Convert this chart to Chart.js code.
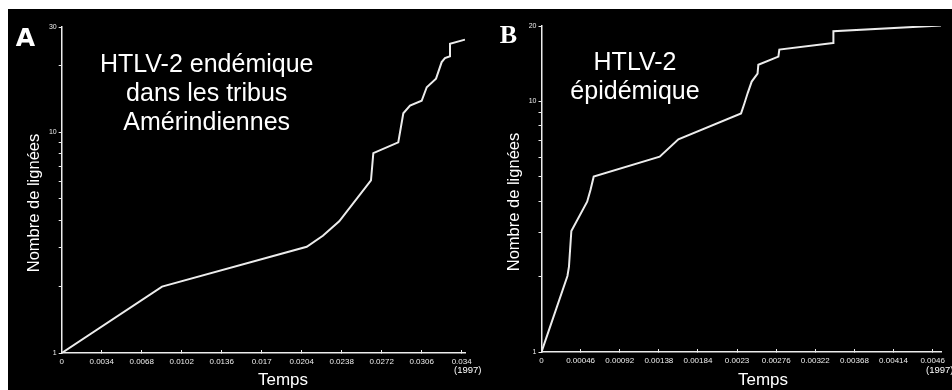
<!DOCTYPE html>
<html>
<head>
<meta charset="utf-8">
<script src="https://cdn.jsdelivr.net/npm/chart.js@4"></script>
<style>
  html, body { margin: 0; padding: 0; background: #fff; }
  body { width: 952px; height: 390px; position: relative; overflow: hidden; }
  #bg { position: absolute; left: 8px; top: 9px; width: 944px; height: 381px; background: #000; }
  #chartA { position: absolute; left: 8px; top: 9px; }
  #chartB { position: absolute; left: 476px; top: 9px; }
</style>
</head>
<body>
<div id="bg"></div>
<canvas id="chartA" width="490" height="381"></canvas>
<canvas id="chartB" width="476" height="381"></canvas>
<script>
// panel A : HTLV-2 endémique (temps, nombre de lignées)
var timesA    = [0, 0.00853, 0.02083, 0.0222, 0.02359, 0.02629, 0.02649, 0.02861, 0.02904, 0.02961, 0.0306, 0.03103, 0.03182, 0.0323, 0.03258, 0.03301, 0.03301, 0.03428];
var lineagesA = [1, 2.0, 3.03, 3.4, 3.95, 6.05, 8.05, 9.0, 12.2, 13.2, 13.9, 16.0, 17.5, 20.8, 21.7, 22.1, 25.2, 26.3];
var xTicksA  = [0, 0.0034, 0.0068, 0.0102, 0.0136, 0.017, 0.0204, 0.0238, 0.0272, 0.0306, 0.034];
var xLabelsA = ['0', '0.0034', '0.0068', '0.0102', '0.0136', '0.017', '0.0204', '0.0238', '0.0272', '0.0306', '0.034'];
var yTicksA  = [1, 2, 3, 4, 5, 6, 7, 8, 9, 10, 20, 30];
var yLabelsA = [1, 10, 30];

// panel B : HTLV-2 épidémique
var timesB    = [0, 0.000305, 0.000323, 0.000351, 0.000537, 0.000576, 0.000614, 0.00139, 0.00161, 0.002347, 0.002387, 0.002425, 0.002472, 0.002541, 0.00255, 0.002786, 0.002797, 0.00343, 0.003433, 0.0047];
var lineagesB = [1, 2.01, 2.19, 3.04, 3.98, 4.43, 5.01, 6.02, 7.06, 8.96, 9.83, 10.8, 12.0, 12.9, 14.0, 15.1, 16.1, 17.1, 19.05, 20.1];
var xTicksB  = [0, 0.00046, 0.00092, 0.00138, 0.00184, 0.0023, 0.00276, 0.00322, 0.00368, 0.00414, 0.0046];
var xLabelsB = ['0', '0.00046', '0.00092', '0.00138', '0.00184', '0.0023', '0.00276', '0.00322', '0.00368', '0.00414', '0.0046'];
var yTicksB  = [1, 2, 3, 4, 5, 6, 7, 8, 9, 10, 20];
var yLabelsB = [1, 10, 20];

var FG = '#ececec';
var SANS = "'Liberation Sans', Arial, sans-serif";

// draws the free texts (panel letter, annotation, axis titles)
var textPlugin = {
  id: 'texts',
  afterDraw: function(chart, args, opts) {
    var ctx = chart.ctx;
    (opts.items || []).forEach(function(t) {
      ctx.save();
      ctx.fillStyle = '#fff';
      ctx.font = t.font;
      ctx.textAlign = t.align || 'center';
      ctx.textBaseline = t.baseline || 'alphabetic';
      ctx.translate(t.x, t.y);
      if (t.rotate) ctx.rotate(t.rotate);
      ctx.fillText(t.text, 0, 0);
      ctx.restore();
    });
  }
};

function makeChart(id, times, lineages, xTicks, xLabels, yTicks, yLabels, lay, texts) {
  var pts = times.map(function(t, i) { return {x: t, y: lineages[i]}; });
  return new Chart(document.getElementById(id), {
    type: 'line',
    data: {
      datasets: [{
        data: pts,
        borderColor: FG,
        borderWidth: 2,
        pointRadius: 0,
        fill: false,
        tension: 0
      }]
    },
    options: {
      responsive: false,
      animation: false,
      devicePixelRatio: 1,
      layout: { autoPadding: false, padding: { top: lay.top, right: lay.right, left: 0, bottom: 0 } },
      plugins: {
        legend: { display: false },
        tooltip: { enabled: false },
        texts: { items: texts }
      },
      scales: {
        x: {
          type: 'linear',
          min: 0,
          max: lay.xMax,
          afterFit: function(s) { s.height = lay.xHeight; },
          afterBuildTicks: function(s) { s.ticks = xTicks.map(function(v) { return {value: v}; }); },
          border: { color: FG, width: 1.5 },
          grid: { drawOnChartArea: false, drawTicks: true, tickLength: -3, color: FG, lineWidth: 1 },
          ticks: {
            autoSkip: false,
            maxRotation: 0,
            padding: 7,
            color: FG,
            font: { family: SANS, size: 8 },
            callback: function(v, i) { return xLabels[i]; }
          }
        },
        y: {
          type: 'logarithmic',
          min: 1,
          max: yTicks[yTicks.length - 1],
          afterFit: function(s) { s.width = lay.yWidth; },
          afterBuildTicks: function(s) { s.ticks = yTicks.map(function(v) { return {value: v}; }); },
          border: { color: FG, width: 1.5 },
          grid: { drawOnChartArea: false, drawTicks: true, tickLength: 3, color: FG, lineWidth: 1 },
          ticks: {
            autoSkip: false,
            padding: 2,
            color: FG,
            font: { family: SANS, size: 7 },
            callback: function(v) { return yLabels.indexOf(v) >= 0 ? String(v) : ''; }
          }
        }
      }
    },
    plugins: [textPlugin]
  });
}

makeChart('chartA', timesA, lineagesA, xTicksA, xLabelsA, yTicksA, yLabelsA,
  { top: 18, right: 32.8, xMax: 0.0343, xHeight: 37, yWidth: 53.7 },
  [
    { text: 'A', x: 17.5, y: 37, font: "bold 25px 'DejaVu Sans', sans-serif" },
    { text: 'HTLV-2 endémique', x: 198.7, y: 62.7, font: '25px ' + SANS },
    { text: 'dans les tribus', x: 198.7, y: 92, font: '25px ' + SANS },
    { text: 'Amérindiennes', x: 198.7, y: 121.3, font: '25px ' + SANS },
    { text: 'Nombre de lignées', x: 26, y: 194, font: '16.5px ' + SANS, baseline: 'middle', rotate: -Math.PI / 2 },
    { text: 'Temps', x: 275, y: 376, font: '17px ' + SANS },
    { text: '(1997)', x: 446, y: 364, font: '9.5px ' + SANS, align: 'left' }
  ]);

makeChart('chartB', timesB, lineagesB, xTicksB, xLabelsB, yTicksB, yLabelsB,
  { top: 17, right: 6.4, xMax: 0.0047, xHeight: 38, yWidth: 65.5 },
  [
    { text: 'B', x: 32.5, y: 34.3, font: "bold 26px 'Liberation Serif', serif" },
    { text: 'HTLV-2', x: 159, y: 61, font: '25px ' + SANS },
    { text: 'épidémique', x: 159, y: 90, font: '25px ' + SANS },
    { text: 'Nombre de lignées', x: 38, y: 193, font: '16.5px ' + SANS, baseline: 'middle', rotate: -Math.PI / 2 },
    { text: 'Temps', x: 287, y: 376, font: '17px ' + SANS },
    { text: '(1997)', x: 450, y: 364, font: '9.5px ' + SANS, align: 'left' }
  ]);
</script>
</body>
</html>
